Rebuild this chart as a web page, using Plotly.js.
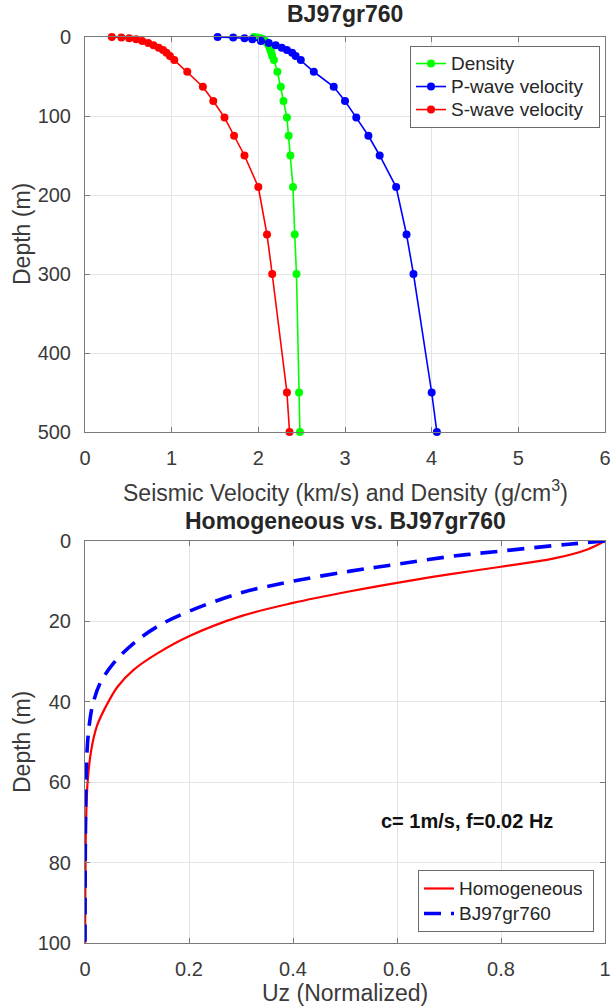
<!DOCTYPE html>
<html>
<head>
<meta charset="utf-8">
<script src="https://cdn.plot.ly/plotly-3.0.1.min.js"></script>
<style>html,body{margin:0;padding:0;background:#fff;}#chart{width:611px;height:1008px;}</style>
</head>
<body>
<div id="chart"></div>
<script>
// ---- Top panel: BJ97gr760 profile ----
const depthProfile = [0, 0.5, 1.5, 3, 5, 7.5, 10.5, 13.5, 16.5, 20, 24, 29, 44, 63, 81, 102, 125, 150, 190, 250, 300, 450, 500];
const density = [1.95, 1.99, 2.03, 2.06, 2.08, 2.10, 2.12, 2.13, 2.14, 2.15, 2.16, 2.18, 2.22, 2.26, 2.29, 2.33, 2.35, 2.37, 2.40, 2.42, 2.44, 2.47, 2.48];
const pVelocity = [1.53, 1.71, 1.84, 1.93, 2.03, 2.12, 2.20, 2.27, 2.33, 2.39, 2.43, 2.49, 2.64, 2.87, 3.00, 3.13, 3.27, 3.40, 3.59, 3.71, 3.79, 4.00, 4.06];
const sVelocity = [0.31, 0.42, 0.51, 0.59, 0.66, 0.73, 0.79, 0.85, 0.90, 0.94, 0.98, 1.03, 1.18, 1.36, 1.48, 1.61, 1.72, 1.84, 2.00, 2.10, 2.16, 2.33, 2.36];

// ---- Bottom panel: normalized Uz ----
const depthHomog = [0, 2.1, 4.4, 6.4, 8.3, 10.4, 12.5, 15.4, 18.7, 23.7, 27.9, 32, 36.2, 41.2, 46, 52, 60, 70, 80, 90, 100];
const uzHomog = [1, 0.966, 0.90, 0.80, 0.70, 0.60, 0.51, 0.40, 0.30, 0.20, 0.14, 0.094, 0.063, 0.040, 0.023, 0.012, 0.005, 0.002, 0.001, 0.0005, 0.0002];
const depthBJ = [0, 0.8, 2.5, 3.9, 5.8, 7.5, 10, 12.9, 17.5, 21.2, 25.4, 30.4, 35.4, 41.2, 46, 52, 60, 70, 80, 90, 100];
const uzBJ = [1, 0.93, 0.80, 0.70, 0.60, 0.51, 0.40, 0.30, 0.20, 0.14, 0.094, 0.055, 0.029, 0.014, 0.008, 0.004, 0.002, 0.001, 0.0005, 0.0002, 0.0001];

const seriesNames = ['Density', 'P-wave velocity', 'S-wave velocity'];
const curveNames = ['Homogeneous', 'BJ97gr760'];
const topTitle = "BJ97gr760";
const bottomTitle = "Homogeneous vs. BJ97gr760";
const topXLabel = "Seismic Velocity (km/s) and Density (g/cm<sup>3</sup>)";
const bottomXLabel = "Uz (Normalized)";
const yLabel = "Depth (m)";
const note = "c= 1m/s, f=0.02 Hz";

const FONT = "Liberation Sans, Arial, Helvetica, sans-serif";
const W = 611, H = 1008;
const px = v => v / W;
const py = v => 1 - v / H;
const big = (s, pad) => '<span style="font-size:19px">' + s + pad + '</span>';

const axisCommon = {
  showline: true, linecolor: '#7a7a7a', linewidth: 1, mirror: 'ticks',
  ticks: 'inside', ticklen: 5, tickcolor: '#7a7a7a', tickwidth: 1,
  showgrid: true, gridcolor: '#e4e4e4', gridwidth: 1, zeroline: false,
  tickfont: {family: FONT, size: 20, color: '#3a3a3a'},
  fixedrange: true, automargin: false
};

const mk = (x, y, name, color) => ({
  x: x, y: y, name: big(name, '&nbsp;&nbsp;'), type: 'scatter', mode: 'lines+markers',
  xaxis: 'x', yaxis: 'y', legend: 'legend', cliponaxis: false,
  line: {color: color, width: 1.6},
  marker: {color: color, size: 8, symbol: 'circle'}
});

const traces = [
  mk(density, depthProfile, seriesNames[0], '#00ff00'),
  mk(pVelocity, depthProfile, seriesNames[1], '#0000ff'),
  mk(sVelocity, depthProfile, seriesNames[2], '#ff0000'),
  {x: uzHomog, y: depthHomog, name: big(curveNames[0], '&nbsp;'), type: 'scatter', mode: 'lines',
   xaxis: 'x2', yaxis: 'y2', legend: 'legend2', cliponaxis: false,
   line: {color: '#ff0000', width: 2.2, shape: 'spline'}},
  {x: uzBJ, y: depthBJ, name: big(curveNames[1], '&nbsp;'), type: 'scatter', mode: 'lines',
   xaxis: 'x2', yaxis: 'y2', legend: 'legend2', cliponaxis: false,
   line: {color: '#0000ff', width: 3.6, dash: '17px,10px', shape: 'spline'}}
];

const layout = {
  width: W, height: H,
  margin: {l: 0, r: 0, t: 0, b: 0},
  paper_bgcolor: '#fff', plot_bgcolor: '#fff',
  showlegend: true,
  font: {family: FONT, color: '#262626'},
  xaxis: Object.assign({}, axisCommon, {domain: [px(85), px(605)], range: [0, 6], dtick: 1, tick0: 0, anchor: 'y', ticklabelstandoff: 8}),
  yaxis: Object.assign({}, axisCommon, {domain: [py(432), py(37)], range: [500, 0], dtick: 100, tick0: 0, anchor: 'x', ticklabelstandoff: 9}),
  xaxis2: Object.assign({}, axisCommon, {domain: [px(85), px(605)], range: [0, 1], dtick: 0.2, tick0: 0, anchor: 'y2', ticklabelstandoff: 8}),
  yaxis2: Object.assign({}, axisCommon, {domain: [py(943), py(541)], range: [100, 0], dtick: 20, tick0: 0, anchor: 'x2', ticklabelstandoff: 9}),
  legend: {
    x: px(600), xanchor: 'right', y: py(46), yanchor: 'top', xref: 'paper', yref: 'paper',
    bgcolor: '#fff', bordercolor: '#6a6a6a', borderwidth: 1,
    font: {family: FONT, size: 15.4, color: '#262626'}, tracegroupgap: 0
  },
  legend2: {
    x: px(594), xanchor: 'right', y: py(932), yanchor: 'bottom', xref: 'paper', yref: 'paper',
    bgcolor: '#fff', bordercolor: '#6a6a6a', borderwidth: 1,
    font: {family: FONT, size: 16.9, color: '#262626'}, tracegroupgap: 0
  },
  annotations: [
    {text: '<b>' + topTitle + '</b>', x: px(345), y: py(14), xref: 'paper', yref: 'paper', showarrow: false,
     xanchor: 'center', yanchor: 'middle', font: {family: FONT, size: 23, color: '#262626'}},
    {text: '<b>' + bottomTitle + '</b>', x: px(345), y: py(521), xref: 'paper', yref: 'paper', showarrow: false,
     xanchor: 'center', yanchor: 'middle', font: {family: FONT, size: 23, color: '#262626'}},
    {text: topXLabel, x: px(345), y: py(491), xref: 'paper', yref: 'paper', showarrow: false,
     xanchor: 'center', yanchor: 'middle', font: {family: FONT, size: 23, color: '#3a3a3a'}},
    {text: bottomXLabel, x: px(345), y: py(993), xref: 'paper', yref: 'paper', showarrow: false,
     xanchor: 'center', yanchor: 'middle', font: {family: FONT, size: 23, color: '#3a3a3a'}},
    {text: yLabel, x: px(22), y: py(234), xref: 'paper', yref: 'paper', showarrow: false, textangle: -90,
     xanchor: 'center', yanchor: 'middle', font: {family: FONT, size: 23, color: '#3a3a3a'}},
    {text: yLabel, x: px(22), y: py(742), xref: 'paper', yref: 'paper', showarrow: false, textangle: -90,
     xanchor: 'center', yanchor: 'middle', font: {family: FONT, size: 23, color: '#3a3a3a'}},
    {text: '<b>' + note + '</b>', x: 0.734, y: 69.6, xref: 'x2', yref: 'y2', showarrow: false,
     xanchor: 'center', yanchor: 'middle', font: {family: FONT, size: 20, color: '#111'}}
  ]
};

Plotly.newPlot('chart', traces, layout, {displayModeBar: false, staticPlot: true});
</script>
</body>
</html>
